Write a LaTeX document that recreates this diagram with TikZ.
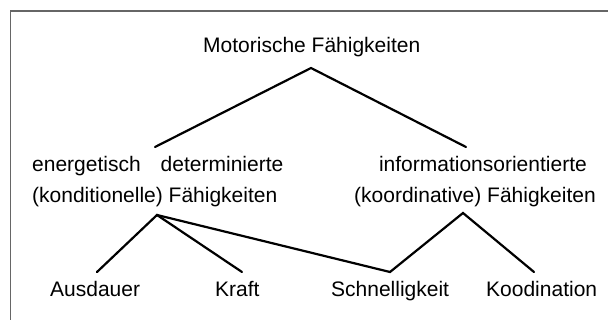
\documentclass[tikz,border=0pt]{standalone}
\usepackage{fontspec}
\setmainfont{Liberation Sans}
\begin{document}
\begin{tikzpicture}[x=1pt,y=-1pt,
  lbl/.style={inner sep=0pt, font=\fontsize{21}{31.5}\selectfont},
  conn/.style={line width=2.2pt, black, line cap=round},
  frame/.style={line width=1.8pt, draw=black!60}]
\clip (0,0) rectangle (608,320);
\useasboundingbox (0,0) rectangle (608,320);
\draw[frame] (10.5,11) rectangle (640,340);
% nodes
\node[lbl, anchor=base west] (mf) at (203,52.5) {Motorische Fähigkeiten};
\node[lbl, anchor=base west, align=left] (ed) at (32,203)
  {energetisch\hspace{20pt}determinierte\\(konditionelle) Fähigkeiten};
\node[lbl, anchor=base east, align=right] (io) at (596,203)
  {informationsorientierte\hspace*{9pt}\\(koordinative) Fähigkeiten};
\node[lbl, anchor=base west] (aus) at (50,297) {Ausdauer};
\node[lbl, anchor=base west] (kr) at (215,297) {Kraft};
\node[lbl, anchor=base west] (sch) at (331,297) {Schnelligkeit};
\node[lbl, anchor=base west] (koo) at (486,297) {Koodination};
% junction points
\coordinate (mfj) at (311,68);
\coordinate (edt) at (155,147);
\coordinate (iot) at (466,147);
\coordinate (edb) at (157,215);
\coordinate (iob) at (463,213);
\coordinate (aust) at (97,272);
\coordinate (krt) at (242,272);
\coordinate (scht) at (390,272);
\coordinate (koot) at (534,272);
% connectors
\draw[conn] (edt) -- (mfj) -- (iot);
\draw[conn] (aust) -- (edb) -- (krt);
\draw[conn] (edb) -- (scht) -- (iob) -- (koot);
\end{tikzpicture}
\end{document}
